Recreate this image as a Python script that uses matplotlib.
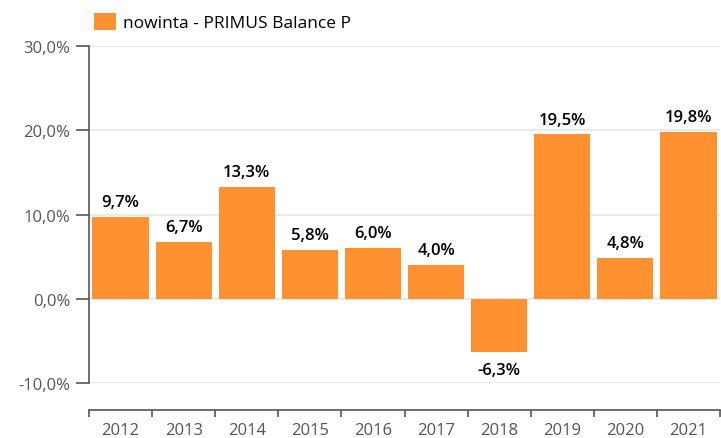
import matplotlib.pyplot as plt
from matplotlib.ticker import FixedLocator

plt.rcParams['font.family'] = ['Open Sans', 'DejaVu Sans']

years = ['2012', '2013', '2014', '2015', '2016', '2017', '2018', '2019', '2020', '2021']
returns = [9.7, 6.7, 13.3, 5.8, 6.0, 4.0, -6.3, 19.5, 4.8, 19.8]
y_ticks = [-10, 0, 10, 20, 30]
series_name = 'nowinta - PRIMUS Balance P'

bar_color = '#FF9130'
axis_color = '#555555'
grid_color = '#e6e6e6'

fig = plt.figure(figsize=(7.21, 4.39), dpi=100)
ax = fig.add_axes([89 / 721, 1 - 384 / 439, 631 / 721, 337 / 439])

x = list(range(len(years)))
bars = ax.bar(x, returns, width=0.89, color=bar_color, zorder=3, label=series_name)

ax.set_xlim(-0.5, len(years) - 0.5)
ax.set_ylim(-10, 30)
ax.set_yticks(y_ticks)
ax.set_yticklabels([f'{v:.1f}%'.replace('.', ',') for v in y_ticks])
ax.yaxis.grid(True, color=grid_color, linewidth=1.2, zorder=0)

# x axis: separate line below the plot, ticks between categories
ax.set_xticks(x)
ax.set_xticklabels(years)
ax.xaxis.set_minor_locator(FixedLocator([i - 0.5 for i in range(len(years) + 1)]))
ax.tick_params(axis='x', which='major', length=0, pad=8.5, labelsize=12, labelcolor=axis_color)
ax.tick_params(axis='x', which='minor', length=5, width=1.2, color=axis_color)
ax.tick_params(axis='y', length=9.5, width=1.2, color=axis_color, pad=4, labelsize=12, labelcolor=axis_color)

ax.spines['top'].set_visible(False)
ax.spines['right'].set_visible(False)
ax.spines['left'].set_color(axis_color)
ax.spines['left'].set_linewidth(1.2)
ax.spines['bottom'].set_position(('outward', 19.5))
ax.spines['bottom'].set_color(axis_color)
ax.spines['bottom'].set_linewidth(1.2)

for xi, v in zip(x, returns):
    label = f'{v:.1f}%'.replace('.', ',')
    if v >= 0:
        ax.annotate(label, (xi, v), xytext=(0, 5), textcoords='offset points',
                    ha='center', va='bottom', fontsize=12, fontweight='semibold', color='black')
    else:
        ax.annotate(label, (xi, v), xytext=(0, -7), textcoords='offset points',
                    ha='center', va='top', fontsize=12, fontweight='semibold', color='black')

fig.legend(handles=[bars], labels=[series_name], loc='upper left',
           bbox_to_anchor=(87 / 721, 1 - 7 / 439), frameon=False, fontsize=12.5,
           handlelength=1.27, handleheight=1.1, handletextpad=0.4, borderaxespad=0)

fig.savefig('out.png', dpi=100)
